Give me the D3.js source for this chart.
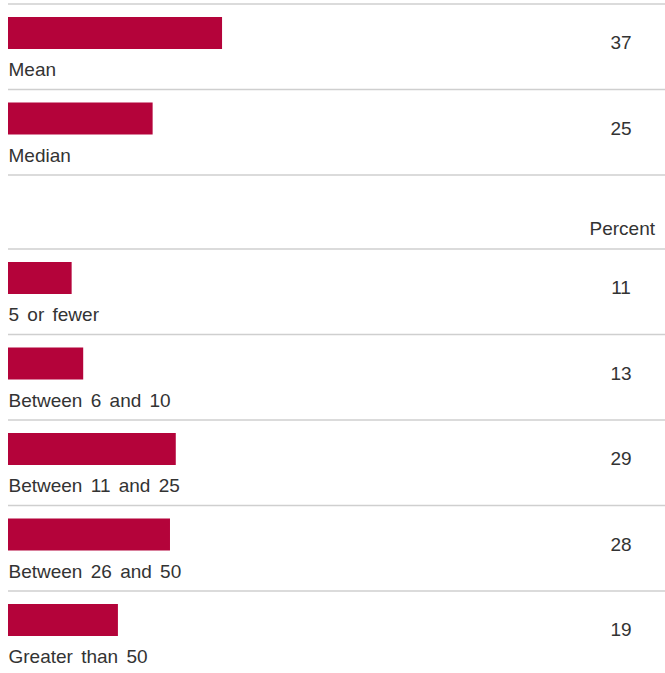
<!DOCTYPE html>
<html>
<head>
<meta charset="utf-8">
<script src="https://cdn.jsdelivr.net/npm/d3@7"></script>
<style>
  html, body { margin: 0; padding: 0; background: #fff; }
  svg { display: block; }
  text { font-family: "Liberation Sans", Arial, sans-serif; fill: #333; }
</style>
</head>
<body>
<svg id="chart" width="665" height="673"></svg>
<script>
// Data
const summaryLabels = ["Mean", "Median"];
const summaryValues = [37, 25];
const groupLabels = ["5 or fewer", "Between 6 and 10", "Between 11 and 25", "Between 26 and 50", "Greater than 50"];
const groupValues = [11, 13, 29, 28, 19];
const unitLabel = "Percent";

const W = 665, H = 673;
const svg = d3.select("#chart");
const barColor = "#b4033a";
const lineColor = "#cfcfcf";
const rowH = 85.5;

const x = d3.scaleLinear().domain([0, 100]).range([8, 586.5]);

function drawGroup(labels, values, top) {
  const y = d3.scaleLinear().domain([0, 1]).range([top, top + rowH]);
  const data = labels.map((l, i) => ({ label: l, value: values[i], i }));
  const g = svg.append("g");
  g.selectAll("line.sep")
    .data(d3.range(labels.length + 1))
    .join("line")
    .attr("class", "sep")
    .attr("x1", x(0)).attr("x2", W)
    .attr("y1", d => y(d)).attr("y2", d => y(d))
    .attr("stroke", lineColor).attr("stroke-width", 1.5);
  const row = g.selectAll("g.row").data(data).join("g").attr("class", "row")
    .attr("transform", d => `translate(0,${y(d.i)})`);
  row.append("rect")
    .attr("x", x(0)).attr("y", 13)
    .attr("width", d => x(d.value) - x(0)).attr("height", 32)
    .attr("fill", barColor);
  row.append("text")
    .attr("x", x(0) + 0.5).attr("y", 72)
    .attr("font-size", 19)
    .attr("word-spacing", 3)
    .text(d => d.label);
  row.append("text")
    .attr("x", 621).attr("y", 45)
    .attr("text-anchor", "middle")
    .attr("font-size", 19)
    .text(d => d.value);
}

drawGroup(summaryLabels, summaryValues, 4);

svg.append("text")
  .attr("x", 655).attr("y", 235)
  .attr("text-anchor", "end")
  .attr("font-size", 19)
  .text(unitLabel);

drawGroup(groupLabels, groupValues, 249);
</script>
</body>
</html>
